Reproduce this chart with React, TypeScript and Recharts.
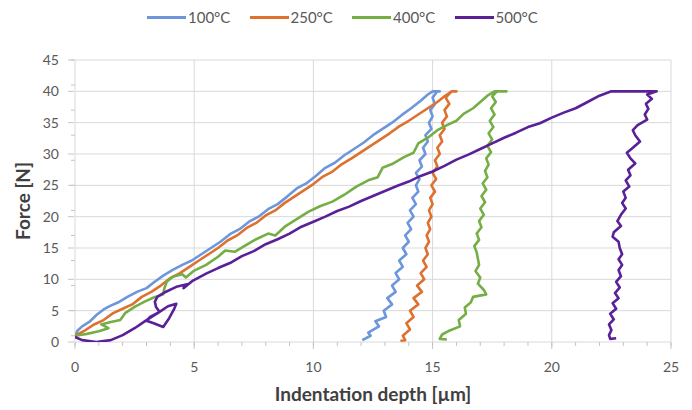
import React from 'react';
import { LineChart, Line, XAxis, YAxis, CartesianGrid, Legend } from 'recharts';

const seriesNames = ['100°C', '250°C', '400°C', '500°C'];
const seriesColors = ['#6d96dc', '#dc7130', '#75ae45', '#5a2097'];

const xMajorTicks = [0, 5, 10, 15, 20, 25];
const yMajorTicks = [0, 5, 10, 15, 20, 25, 30, 35, 40, 45];
const xMinorTicks = Array.from({ length: 26 }, (_, i) => i);
const yMinorTicks = Array.from({ length: 46 }, (_, i) => i);

// [depth µm, force N]
const curve100: number[][] = [
  [0, 0.8], [0.1, 1.8], [0.3, 2.5], [0.6, 3.2], [0.9, 4.3], [1.2, 5.2], [1.5, 5.8], [1.8, 6.3],
  [2.2, 7.2], [2.6, 8.0], [3.0, 8.6], [3.3, 9.5], [3.7, 10.6], [4.1, 11.5], [4.5, 12.3], [4.9, 13.0],
  [5.3, 14.0], [5.7, 15.0], [6.1, 16.0], [6.5, 17.2], [6.9, 18.0], [7.3, 19.2], [7.7, 20.0], [8.1, 21.2],
  [8.5, 22.0], [8.9, 23.2], [9.3, 24.5], [9.7, 25.3], [10.1, 26.5], [10.5, 27.8], [10.9, 28.6], [11.3, 29.8],
  [11.7, 30.8], [12.1, 31.8], [12.5, 33.0], [12.9, 34.0], [13.3, 35.0], [13.7, 36.2], [14.1, 37.3], [14.5, 38.5],
  [14.8, 39.5], [15.0, 40], [15.3, 40],
  [15.2, 40], [15.0, 39], [15.1, 38], [14.9, 37], [15.0, 36], [14.85, 35], [14.95, 34], [14.7, 33], [14.8, 32],
  [14.6, 31], [14.7, 30], [14.45, 29], [14.55, 28], [14.3, 27], [14.45, 26], [14.3, 25], [14.4, 24], [14.15, 23],
  [14.3, 22], [14.05, 21], [14.2, 20], [13.95, 19], [14.1, 18], [13.85, 17], [14.0, 16], [13.75, 15], [13.9, 14],
  [13.6, 13], [13.75, 12], [13.45, 11], [13.6, 10], [13.3, 9], [13.45, 8], [13.1, 7], [13.3, 6], [12.95, 5],
  [13.05, 4], [12.6, 3.3], [12.75, 2.5], [12.3, 1.5], [12.4, 1], [12.05, 0.3],
];

const curve250: number[][] = [
  [0, 1], [0.4, 1.8], [0.8, 2.8], [1.2, 3.5], [1.6, 4.6], [2.0, 5.3], [2.4, 6.0], [2.8, 7.2], [3.2, 8.0],
  [3.6, 9.0], [4.0, 10.2], [4.4, 11.0], [4.8, 12.0], [5.2, 13.0], [5.6, 14.0], [6.0, 15.0], [6.4, 16.2],
  [6.8, 17.0], [7.2, 18.2], [7.6, 19.0], [8.0, 20.2], [8.4, 21.0], [8.8, 22.2], [9.2, 23.2], [9.6, 24.2],
  [10.0, 25.2], [10.4, 26.4], [10.8, 27.2], [11.2, 28.4], [11.6, 29.3], [12.0, 30.3], [12.4, 31.3], [12.8, 32.3],
  [13.2, 33.3], [13.6, 34.4], [14.0, 35.3], [14.4, 36.3], [14.8, 37.3], [15.2, 38.3], [15.5, 39.2], [15.8, 40],
  [16.0, 40],
  [15.8, 40], [15.55, 39], [15.7, 38], [15.5, 37], [15.6, 36], [15.4, 35], [15.5, 34], [15.3, 33], [15.4, 32],
  [15.2, 31], [15.3, 30], [15.1, 29], [15.2, 28], [15.0, 27], [15.15, 26], [14.95, 25], [15.1, 24], [14.9, 23],
  [15.0, 22], [14.85, 21], [14.95, 20], [14.8, 19], [14.9, 18], [14.75, 17], [14.85, 16], [14.7, 15], [14.8, 14],
  [14.6, 13], [14.75, 12], [14.5, 11], [14.65, 10], [14.35, 9], [14.55, 8], [14.2, 7], [14.4, 6], [14.05, 5],
  [14.2, 4], [13.9, 3], [14.05, 2], [13.75, 1], [13.85, 0.3], [13.65, 0.2],
];

const curve400: number[][] = [
  [0, 1], [0.5, 1.3], [1.0, 1.7], [1.4, 2.2], [1.1, 2.8], [1.5, 3.2], [1.9, 3.5], [2.1, 4.6], [2.5, 5.6],
  [2.9, 6.4], [3.3, 7.1], [3.7, 7.6], [3.75, 8.6], [3.85, 9.6], [4.1, 10.4], [4.5, 10.8], [4.65, 10.3],
  [5.0, 11.4], [5.5, 12.3], [6.0, 13.6], [6.3, 14.6], [6.7, 14.4], [7.1, 15.3], [7.6, 16.4], [8.1, 17.3],
  [8.4, 17.0], [8.8, 18.4], [9.3, 19.6], [9.8, 20.8], [10.3, 21.7], [10.8, 22.4], [11.3, 23.5], [11.8, 24.8],
  [12.3, 25.8], [12.7, 26.3], [12.9, 27.8], [13.3, 28.4], [13.8, 29.5], [14.2, 30.2], [14.4, 31.7], [14.8, 32.6],
  [15.2, 33.8], [15.6, 34.6], [16.0, 35.3], [16.3, 36.4], [16.7, 37.3], [17.0, 38.3], [17.3, 39.3], [17.6, 40],
  [18.1, 40],
  [17.7, 40], [17.5, 39.2], [17.65, 38.3], [17.45, 37.3], [17.6, 36.3], [17.4, 35.3], [17.55, 34.3], [17.35, 33.3],
  [17.5, 32.3], [17.3, 31.3], [17.45, 30.3], [17.25, 29.3], [17.35, 28.3], [17.2, 27.3], [17.3, 26.3], [17.1, 25.3],
  [17.25, 24.3], [17.05, 23.3], [17.2, 22.3], [17.0, 21.3], [17.15, 20.3], [16.95, 19.3], [17.05, 18.3],
  [16.85, 17.3], [16.95, 16.3], [16.75, 15.3], [16.85, 14.3], [16.9, 13.3], [16.95, 12.3], [16.8, 11.3],
  [17.0, 10.3], [16.9, 9.3], [17.15, 8.3], [17.25, 7.6], [16.7, 7.2], [16.6, 6.3], [16.35, 5.5], [16.4, 4.5],
  [16.1, 3.5], [16.15, 2.5], [15.7, 1.8], [15.4, 1.2], [15.3, 0.5], [15.6, 0.4],
];

const curve500: number[][] = [
  [0, 0.8], [0.3, 0.3], [0.9, 0], [1.5, 0.3], [2.0, 1.1], [2.5, 2.2], [3.0, 3.5], [3.5, 4.7], [3.9, 5.7],
  [4.25, 6.1], [4.15, 5.2], [3.95, 3.8], [3.7, 2.4], [3.3, 3.0], [3.0, 3.4], [3.15, 4.0], [3.55, 4.8],
  [3.4, 5.6], [3.35, 6.4], [3.45, 7.2], [3.75, 7.9], [4.25, 8.8], [4.7, 9.2], [4.55, 8.6], [4.95, 9.8],
  [5.5, 10.9], [6.0, 11.8], [6.5, 12.6], [7.0, 13.7], [7.5, 14.5], [8.0, 15.6], [8.5, 16.4], [9.0, 17.3],
  [9.5, 18.4], [10.0, 19.2], [10.5, 20.0], [11.0, 20.9], [11.5, 21.6], [12.0, 22.5], [12.5, 23.3], [13.0, 24.1],
  [13.5, 24.9], [14.0, 25.6], [14.5, 26.5], [15.0, 27.2], [15.5, 28.1], [16.0, 29.1], [16.5, 29.9], [17.0, 30.8],
  [17.5, 31.7], [18.0, 32.6], [18.5, 33.4], [19.0, 34.3], [19.5, 34.9], [20.0, 35.8], [20.5, 36.6], [21.0, 37.3],
  [21.5, 38.3], [22.0, 39.3], [22.5, 40], [24.4, 40],
  [24.0, 39.5], [24.2, 38.8], [23.95, 38.0], [24.05, 37.2], [23.9, 36.3], [24.0, 35.5], [23.6, 34.6],
  [23.4, 33.8], [23.5, 33.0], [23.7, 32.0], [23.4, 31.0], [23.15, 30.2], [23.3, 29.3], [23.5, 28.5], [23.2, 27.5],
  [23.3, 26.6], [23.1, 25.8], [23.25, 24.8], [23.0, 24.0], [23.1, 23.0], [22.95, 22.2], [23.1, 21.3], [22.9, 20.3],
  [22.75, 19.3], [22.9, 18.5], [22.6, 17.5], [22.55, 16.8], [22.8, 16.0], [22.85, 15.0], [22.95, 14.0],
  [22.8, 13.2], [22.95, 12.3], [22.8, 11.5], [22.9, 10.5], [22.7, 9.6], [22.85, 8.7], [22.65, 7.8], [22.8, 7.0],
  [22.55, 6.2], [22.7, 5.3], [22.45, 4.5], [22.6, 3.6], [22.4, 2.8], [22.5, 1.9], [22.4, 1.1], [22.45, 0.5],
  [22.7, 0.6],
];

const curves = [curve100, curve250, curve400, curve500];

const toPoints = (c: number[][]) => c.map(([x, y]) => ({ x, y }));

const FONT = 'Lato, "Open Sans", sans-serif';
const GRID = '#d9d9d9';
const AXIS = '#c4c4c4';
const TICK_TEXT = '#595959';
const TITLE = '#404040';

const renderLegend = () => (
  <div style={{ height: 56, position: 'relative', width: 692 }}>
    {seriesNames.map((name, i) => (
      <div
        key={name}
        style={{
          position: 'absolute',
          left: 147 + i * 102.5,
          top: 3,
          height: 20,
          display: 'flex',
          alignItems: 'center',
          fontFamily: FONT,
          fontSize: 15,
          color: TICK_TEXT,
        }}
      >
        <span style={{ display: 'inline-block', width: 39, height: 3, background: seriesColors[i], marginRight: 2 }} />
        <span>{name}</span>
      </div>
    ))}
  </div>
);

const NoLabel = () => <g />;

const YTitle = (props: any) => {
  const vb = props.viewBox || {};
  const cx = 22;
  const cy = vb.y + vb.height / 2;
  return (
    <text
      x={cx}
      y={cy}
      transform={`rotate(-90 ${cx} ${cy})`}
      textAnchor="middle"
      dominantBaseline="central"
      fontFamily={FONT}
      fontWeight={700}
      fontSize={19}
      fill={TITLE}
    >
      Force [N]
    </text>
  );
};

const XTitle = (props: any) => {
  const vb = props.viewBox || {};
  const cx = vb.x + vb.width / 2;
  const cy = vb.y + 50;
  return (
    <text
      x={cx}
      y={cy}
      textAnchor="middle"
      dominantBaseline="central"
      fontFamily={FONT}
      fontWeight={700}
      fontSize={19}
      fill={TITLE}
    >
      Indentation depth [µm]
    </text>
  );
};

const X_MINOR = 'aMinorX';
const Y_MINOR = 'aMinorY';
const X_MAIN = 'bMainX';
const Y_MAIN = 'bMainY';

export default function App() {
  return (
    <div style={{ position: 'absolute', left: 0, top: 0, width: 692, height: 410, background: '#fff' }}>
      <LineChart width={692} height={410} margin={{ top: 4, right: 21, bottom: 0, left: 0 }}>
        <Legend verticalAlign="top" content={renderLegend} wrapperStyle={{ left: 0, width: 692 }} />
        <XAxis
          xAxisId={X_MINOR}
          type="number"
          dataKey="x"
          domain={[0, 25]}
          allowDataOverflow
          ticks={xMinorTicks}
          tick={NoLabel}
          tickSize={4}
          axisLine={false}
          tickLine={{ stroke: AXIS }}
          height={1}
        />
        <YAxis
          yAxisId={Y_MINOR}
          type="number"
          dataKey="y"
          domain={[0, 45]}
          allowDataOverflow
          ticks={yMinorTicks}
          tick={NoLabel}
          tickSize={4}
          axisLine={false}
          tickLine={{ stroke: AXIS }}
          width={1}
        />
        <XAxis
          xAxisId={X_MAIN}
          type="number"
          dataKey="x"
          domain={[0, 25]}
          allowDataOverflow
          ticks={xMajorTicks}
          tickSize={6}
          tickMargin={13}
          axisLine={false}
          tickLine={{ stroke: AXIS }}
          tick={{ fill: TICK_TEXT, fontSize: 14, fontFamily: FONT }}
          height={67}
          label={{ content: XTitle }}
        />
        <YAxis
          yAxisId={Y_MAIN}
          type="number"
          dataKey="y"
          domain={[0, 45]}
          allowDataOverflow
          ticks={yMajorTicks}
          tickSize={6}
          tickMargin={9}
          axisLine={false}
          tickLine={{ stroke: AXIS }}
          tick={{ fill: TICK_TEXT, fontSize: 14, fontFamily: FONT }}
          width={74}
          label={{ content: YTitle }}
        />
        <CartesianGrid xAxisId={X_MAIN} yAxisId={Y_MAIN} stroke={GRID} />
        {curves.map((c, i) => (
          <Line
            key={seriesNames[i]}
            xAxisId={X_MAIN}
            yAxisId={Y_MAIN}
            data={toPoints(c)}
            dataKey="y"
            name={seriesNames[i]}
            type="linear"
            stroke={seriesColors[i]}
            strokeWidth={2.6}
            strokeLinejoin="round"
            dot={false}
            activeDot={false}
            isAnimationActive={false}
          />
        ))}
      </LineChart>
    </div>
  );
}
